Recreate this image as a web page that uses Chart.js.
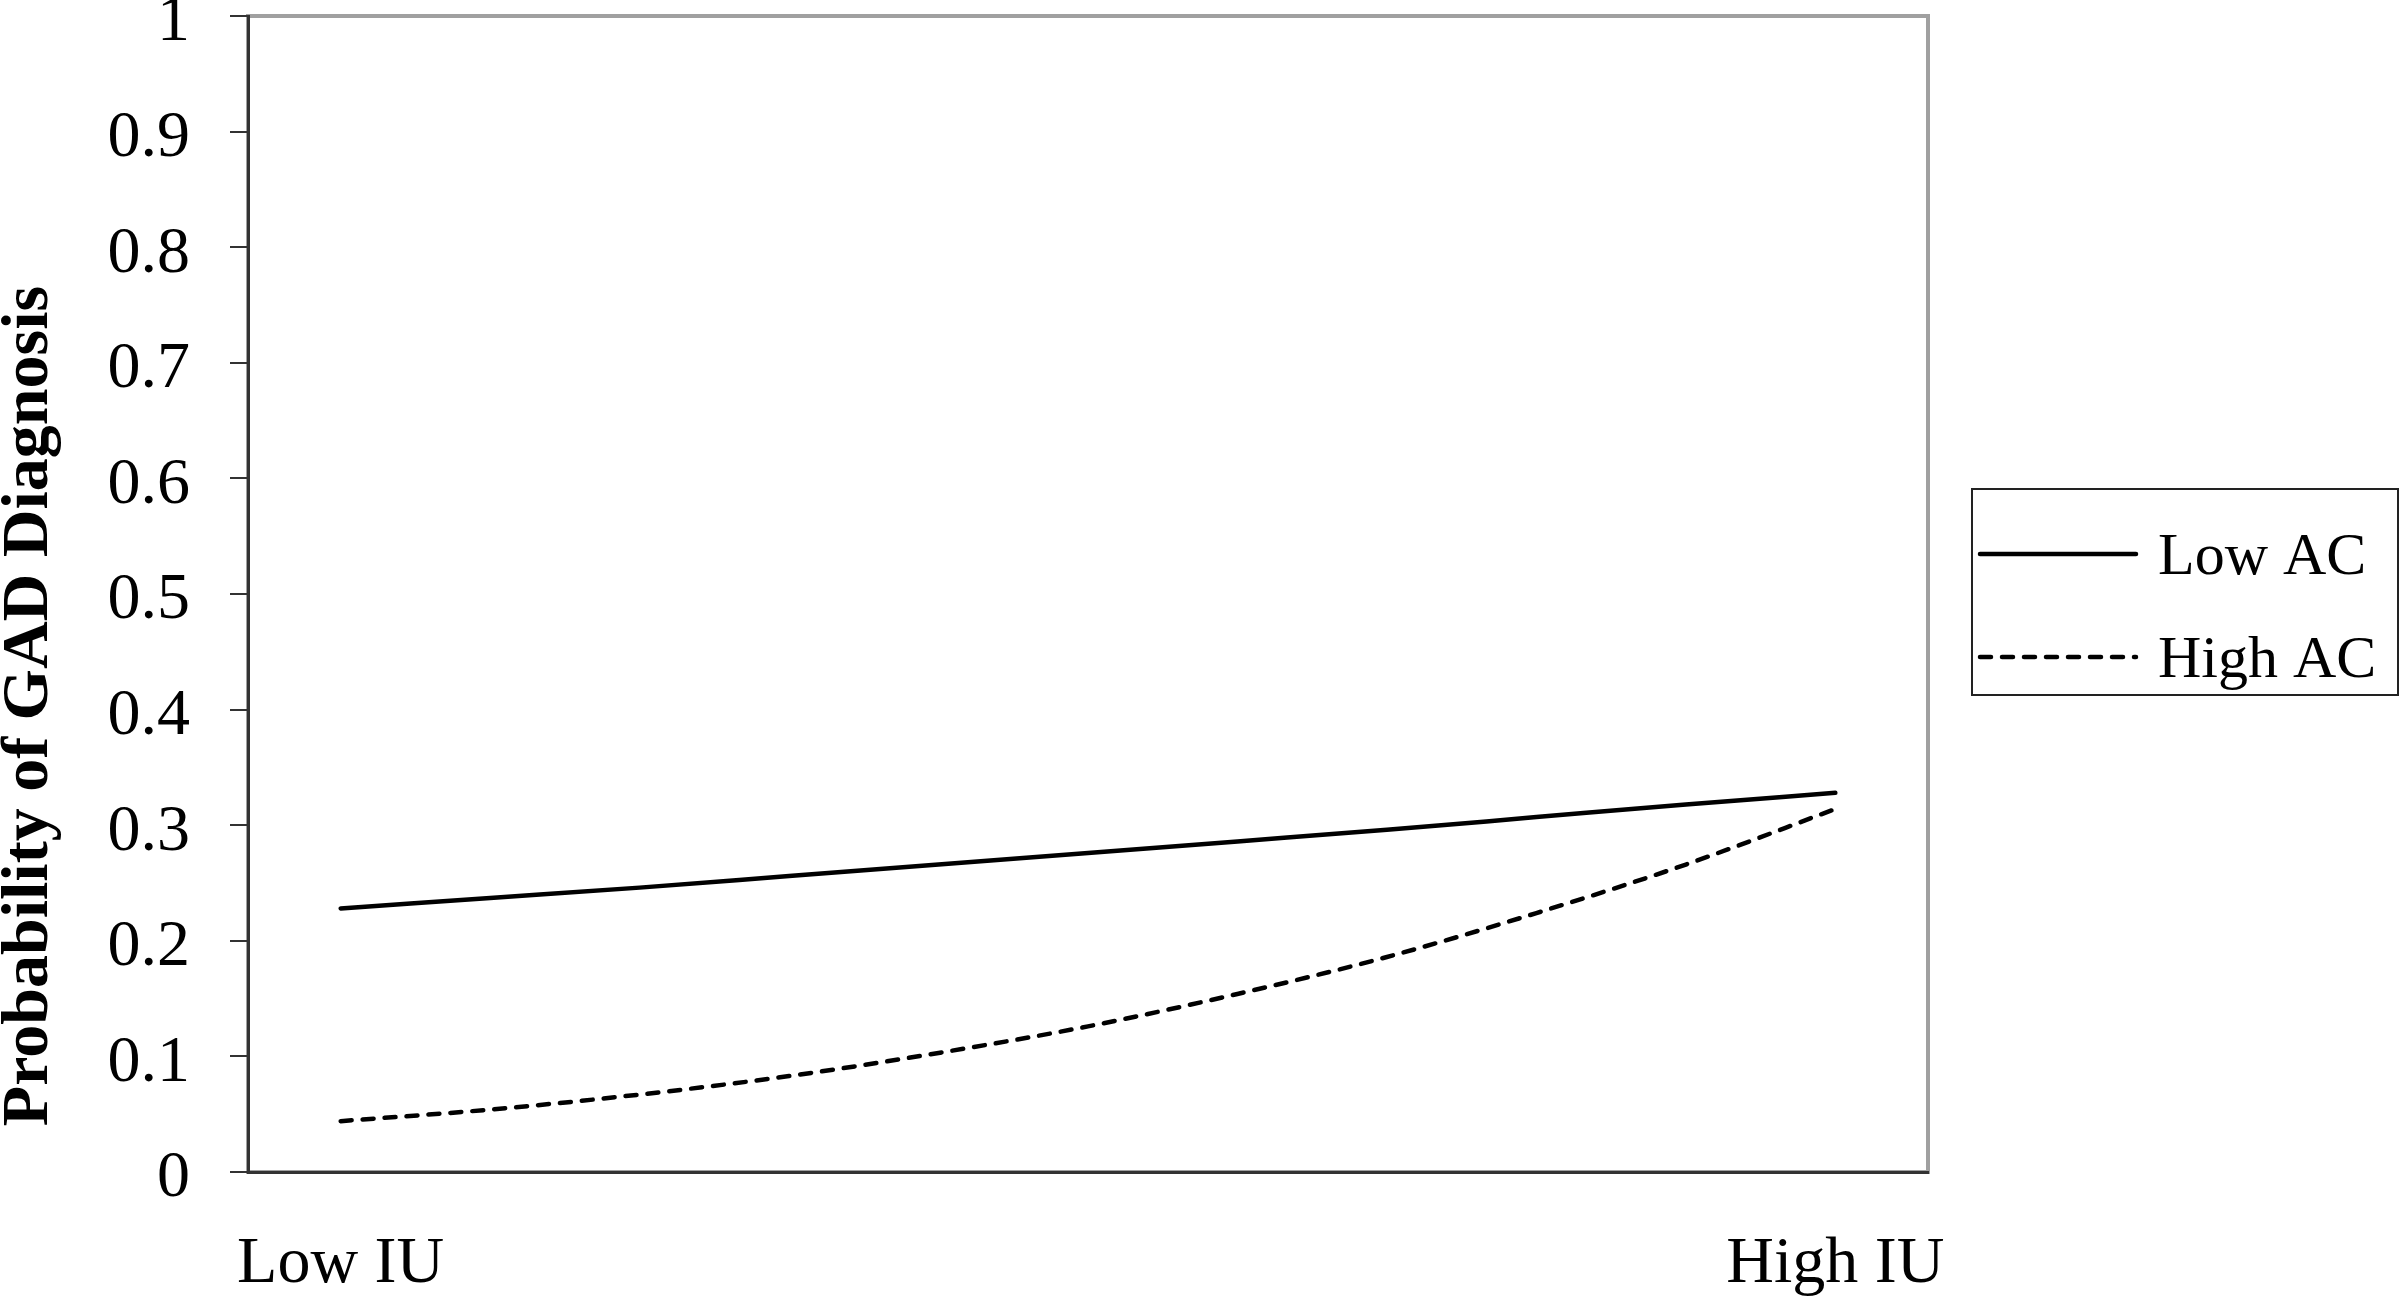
<!DOCTYPE html>
<html>
<head>
<meta charset="utf-8">
<script src="https://cdn.jsdelivr.net/npm/chart.js@4"></script>
<style>
  html, body { margin: 0; padding: 0; background: #fff; }
  #wrap { width: 2400px; height: 1302px; position: relative; }
</style>
</head>
<body>
<div id="wrap"><canvas id="chart"></canvas></div>
<script>
// IU level along the x axis (0 = Low IU, 1 = High IU)
const iuLevels = [0, 0.1, 0.2, 0.3, 0.4, 0.5, 0.6, 0.7, 0.8, 0.9, 1];
// Predicted probability of GAD diagnosis
const lowAC = [0.228, 0.237, 0.246, 0.256, 0.266, 0.276, 0.286, 0.296, 0.307, 0.318, 0.328];
const highAC = [0.044, 0.054, 0.067, 0.083, 0.103, 0.126, 0.154, 0.186, 0.224, 0.266, 0.314];

const seriesLabels = ['Low AC', 'High AC'];
const xTickLabels = ['Low IU', 'High IU'];
const yTitle = 'Probability of GAD Diagnosis';

const serif = "'Liberation Serif', 'Times New Roman', serif";

const toPoints = (vals) => iuLevels.map((x, i) => ({ x: x, y: vals[i] }));

// gray frame round the plot area, drawn before the axes
const framePlugin = {
  id: 'frame',
  beforeDraw(chart) {
    const { ctx, chartArea: a } = chart;
    ctx.save();
    ctx.strokeStyle = '#a0a0a0';
    ctx.lineWidth = 4;
    ctx.strokeRect(a.left, a.top, a.right - a.left, a.bottom - a.top);
    ctx.restore();
  }
};

// bold rotated y title, sits a bit lower than the axis middle
const yTitlePlugin = {
  id: 'yTitle',
  afterDraw(chart) {
    const ctx = chart.ctx;
    ctx.save();
    ctx.translate(47, 706);
    ctx.rotate(-Math.PI / 2);
    ctx.font = 'bold 66px ' + serif;
    ctx.fillStyle = '#000';
    ctx.textAlign = 'center';
    ctx.textBaseline = 'alphabetic';
    ctx.fillText(yTitle, 0, 0);
    ctx.restore();
  }
};

// boxed legend on the right
const boxLegend = {
  id: 'boxLegend',
  afterDraw(chart) {
    const ctx = chart.ctx;
    ctx.save();
    ctx.strokeStyle = '#222';
    ctx.lineWidth = 2;
    ctx.strokeRect(1972, 489, 426, 206);
    chart.data.datasets.forEach((ds, i) => {
      const y = 554 + i * 103;
      ctx.beginPath();
      ctx.setLineDash(ds.borderDash || []);
      ctx.lineCap = 'round';
      ctx.lineWidth = ds.borderWidth;
      ctx.strokeStyle = ds.borderColor;
      ctx.moveTo(1980, y);
      ctx.lineTo(2136, y);
      ctx.stroke();
      ctx.setLineDash([]);
      ctx.font = '60px ' + serif;
      ctx.fillStyle = '#000';
      ctx.textAlign = 'left';
      ctx.textBaseline = 'alphabetic';
      ctx.fillText(ds.label, 2158, y + 20);
    });
    ctx.restore();
  }
};

new Chart(document.getElementById('chart'), {
  type: 'line',
  data: {
    datasets: [
      {
        label: seriesLabels[0],
        data: toPoints(lowAC),
        borderColor: '#000',
        borderWidth: 4.5,
        borderCapStyle: 'round',
        pointRadius: 0,
        cubicInterpolationMode: 'monotone'
      },
      {
        label: seriesLabels[1],
        data: toPoints(highAC),
        borderColor: '#000',
        borderWidth: 4.5,
        borderDash: [11, 11],
        borderCapStyle: 'round',
        pointRadius: 0,
        cubicInterpolationMode: 'monotone'
      }
    ]
  },
  options: {
    responsive: true,
    maintainAspectRatio: false,
    animation: false,
    layout: { padding: { top: 16, right: 472, left: 0, bottom: 0 } },
    plugins: {
      legend: { display: false },
      tooltip: { enabled: false }
    },
    scales: {
      x: {
        type: 'linear',
        min: -0.062,
        max: 1.062,
        afterBuildTicks: (s) => { s.ticks = [{ value: 0 }, { value: 1 }]; },
        ticks: {
          callback: (v, i) => xTickLabels[i],
          font: { family: serif, size: 66 },
          color: '#000',
          padding: 53,
          maxRotation: 0,
          autoSkip: false
        },
        grid: { display: false, drawTicks: false },
        border: { display: true, color: '#333', width: 3 },
        afterFit: (s) => {
          s.height = 130;
          s.paddingLeft = 0;
          s.paddingRight = 0;
        }
      },
      y: {
        min: 0,
        max: 1,
        ticks: {
          stepSize: 0.1,
          callback: (v) => String(+v.toFixed(1)),
          font: { family: serif, size: 66 },
          color: '#000',
          padding: 40,
          labelOffset: 7
        },
        grid: {
          drawOnChartArea: false,
          drawTicks: true,
          tickLength: 18,
          color: '#333',
          lineWidth: 2
        },
        border: { display: true, color: '#333', width: 3 },
        afterFit: (s) => {
          s.width = 248;
          s.paddingTop = 0;
          s.paddingBottom = 0;
        }
      }
    }
  },
  plugins: [framePlugin, yTitlePlugin, boxLegend]
});
</script>
</body>
</html>
